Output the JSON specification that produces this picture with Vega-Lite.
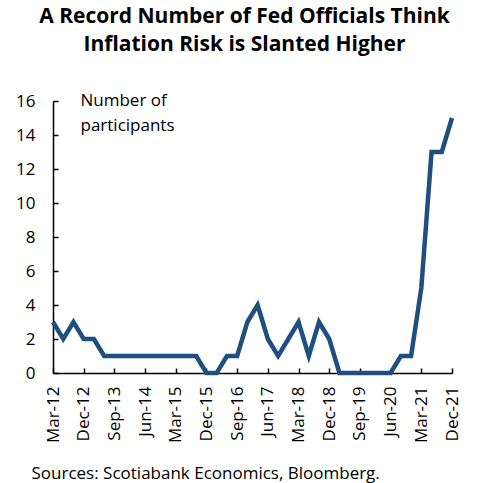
{
  "$schema": "https://vega.github.io/schema/vega-lite/v6.json",
  "width": 399,
  "height": 272,
  "autosize": {"type": "none"},
  "padding": {"left": 53, "top": 101, "right": 38, "bottom": 110},
  "background": "white",
  "title": {
    "text": ["A Record Number of Fed Officials Think", "Inflation Risk is Slanted Higher"],
    "font": "Open Sans",
    "fontSize": 21,
    "fontWeight": "bold",
    "color": "black",
    "anchor": "middle",
    "frame": "group",
    "dx": -8,
    "offset": 36,
    "lineHeight": 28
  },
  "data": {
    "values": [
      {"date": "Mar-12", "n": 3}, {"date": "Jun-12", "n": 2}, {"date": "Sep-12", "n": 3}, {"date": "Dec-12", "n": 2},
      {"date": "Mar-13", "n": 2}, {"date": "Jun-13", "n": 1}, {"date": "Sep-13", "n": 1}, {"date": "Dec-13", "n": 1},
      {"date": "Mar-14", "n": 1}, {"date": "Jun-14", "n": 1}, {"date": "Sep-14", "n": 1}, {"date": "Dec-14", "n": 1},
      {"date": "Mar-15", "n": 1}, {"date": "Jun-15", "n": 1}, {"date": "Sep-15", "n": 1}, {"date": "Dec-15", "n": 0},
      {"date": "Mar-16", "n": 0}, {"date": "Jun-16", "n": 1}, {"date": "Sep-16", "n": 1}, {"date": "Dec-16", "n": 3},
      {"date": "Mar-17", "n": 4}, {"date": "Jun-17", "n": 2}, {"date": "Sep-17", "n": 1}, {"date": "Dec-17", "n": 2},
      {"date": "Mar-18", "n": 3}, {"date": "Jun-18", "n": 1}, {"date": "Sep-18", "n": 3}, {"date": "Dec-18", "n": 2},
      {"date": "Mar-19", "n": 0}, {"date": "Jun-19", "n": 0}, {"date": "Sep-19", "n": 0}, {"date": "Dec-19", "n": 0},
      {"date": "Mar-20", "n": 0}, {"date": "Jun-20", "n": 0}, {"date": "Sep-20", "n": 1}, {"date": "Dec-20", "n": 1},
      {"date": "Mar-21", "n": 5}, {"date": "Jun-21", "n": 13}, {"date": "Sep-21", "n": 13}, {"date": "Dec-21", "n": 15}
    ]
  },
  "mark": {"type": "line", "color": "#1f4e80", "strokeWidth": 4.5},
  "encoding": {
    "x": {
      "field": "date",
      "type": "ordinal",
      "sort": null,
      "scale": {"type": "point", "padding": 0},
      "axis": {
        "values": ["Mar-12", "Dec-12", "Sep-13", "Jun-14", "Mar-15", "Dec-15", "Sep-16", "Jun-17", "Mar-18", "Dec-18", "Sep-19", "Jun-20", "Mar-21", "Dec-21"],
        "labelAngle": 270,
        "labelFont": "Open Sans",
        "labelFontSize": 17,
        "labelColor": "black",
        "labelPadding": 18,
        "domainColor": "black",
        "domainWidth": 1.5,
        "ticks": true,
        "tickColor": "black",
        "tickSize": -5,
        "tickWidth": 1.5,
        "grid": false,
        "title": "Sources: Scotiabank Economics, Bloomberg.",
        "titleFont": "Open Sans",
        "titleFontSize": 17,
        "titleFontWeight": "normal",
        "titleColor": "black",
        "titleAnchor": "start",
        "titleAlign": "left",
        "titleBaseline": "alphabetic",
        "titleX": -22,
        "titleY": 105
      }
    },
    "y": {
      "field": "n",
      "type": "quantitative",
      "scale": {"domain": [0, 16], "nice": false},
      "axis": {
        "values": [0, 2, 4, 6, 8, 10, 12, 14, 16],
        "labelFont": "Open Sans",
        "labelFontSize": 17,
        "labelColor": "black",
        "labelPadding": 23,
        "domainColor": "black",
        "domainWidth": 1.5,
        "ticks": true,
        "tickColor": "black",
        "tickSize": -5,
        "tickWidth": 1.5,
        "grid": false,
        "title": ["Number of", "participants"],
        "titleFont": "Open Sans",
        "titleFontSize": 17,
        "titleFontWeight": "normal",
        "titleColor": "black",
        "titleAngle": 0,
        "titleAlign": "left",
        "titleBaseline": "top",
        "titleLineHeight": 25,
        "titleX": 27,
        "titleY": -9
      }
    }
  },
  "config": {"view": {"stroke": null}}
}
